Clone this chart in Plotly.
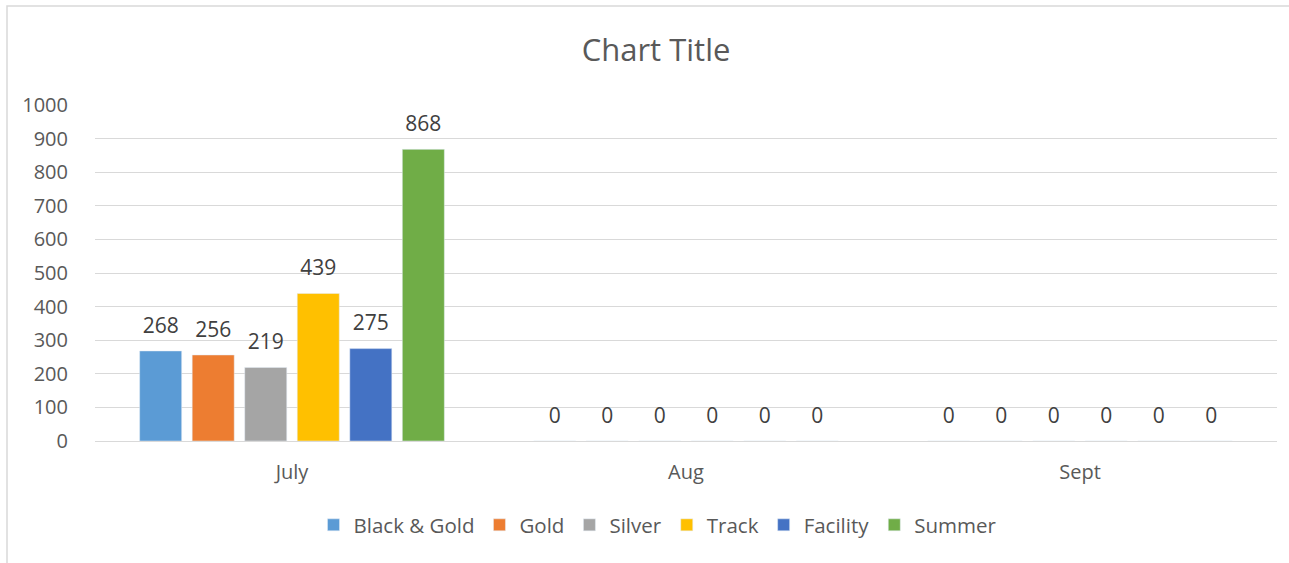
import plotly.graph_objects as go

categories = ["July", "Aug", "Sept"]
series_names = ["Black & Gold", "Gold", "Silver", "Track", "Facility", "Summer"]
black_gold = [268, 0, 0]
gold = [256, 0, 0]
silver = [219, 0, 0]
track = [439, 0, 0]
facility = [275, 0, 0]
summer = [868, 0, 0]
series_values = [black_gold, gold, silver, track, facility, summer]
colors = ["#5B9BD5", "#ED7D31", "#A5A5A5", "#FFC000", "#4472C4", "#70AD47"]
y_ticks = list(range(0, 1001, 100))

FONT = "'Open Sans', 'Noto Sans', sans-serif"
TXT = "#595959"
LBL = "#404040"

fig = go.Figure()
for i, (name, vals, col) in enumerate(zip(series_names, series_values, colors)):
    fig.add_trace(go.Bar(
        x=categories, y=vals, name=name, marker_color=col,
        offsetgroup=str(i),
    ))
# data labels, grouped to sit above each bar
for i, (name, vals) in enumerate(zip(series_names, series_values)):
    fig.add_trace(go.Scatter(
        x=categories, y=vals, mode="markers+text",
        text=[str(v) for v in vals], textposition="top center",
        textfont=dict(size=21, color=LBL, family=FONT),
        marker=dict(size=19, color="rgba(0,0,0,0)"),
        offsetgroup=str(i), showlegend=False, hoverinfo="skip",
        cliponaxis=False,
    ))

W, H = 1289, 563
L, R, T, B = 95, 12, 105, 122
pw, ph = W - L - R, H - T - B

fig.update_layout(
    width=W, height=H,
    margin=dict(l=L, r=R, t=T, b=B),
    paper_bgcolor="white", plot_bgcolor="white",
    barmode="group", bargap=0.2, bargroupgap=0.2,
    scattermode="group", scattergap=0.2,
    font=dict(family=FONT, color=TXT, size=20),
    title=dict(text="Chart Title", x=656 / W, xanchor="center",
               y=1 - 50 / H, yanchor="middle",
               font=dict(size=31, color=TXT, family=FONT)),
    showlegend=True,
    legend=dict(orientation="h", x=(658 - L) / pw, xanchor="center",
                y=(H - B - 525) / ph, yanchor="middle",
                font=dict(size=20.5, color=TXT, family=FONT),
                itemwidth=30, traceorder="normal"),
    xaxis=dict(showgrid=False, showline=False, ticks="outside", ticklen=13,
               tickcolor="rgba(0,0,0,0)", tickfont=dict(size=20, color=TXT)),
    yaxis=dict(range=[0, 1000], tickvals=y_ticks, showgrid=True, gridcolor="#D9D9D9",
               gridwidth=1.3, zeroline=True, zerolinecolor="#D9D9D9", zerolinewidth=1.3,
               showline=False, ticks="outside", ticklen=22, tickcolor="rgba(0,0,0,0)",
               tickfont=dict(size=20, color=TXT)),
    shapes=[dict(type="rect", xref="paper", yref="paper",
                 x0=(7 - L) / pw, x1=1.2, y0=-1.0, y1=(H - B - 6) / ph,
                 line=dict(color="#D9D9D9", width=1.5), fillcolor="rgba(0,0,0,0)",
                 layer="below")],
)

fig.write_html("out.html", config={"displayModeBar": False},
               post_script="document.body.style.margin='0';")
